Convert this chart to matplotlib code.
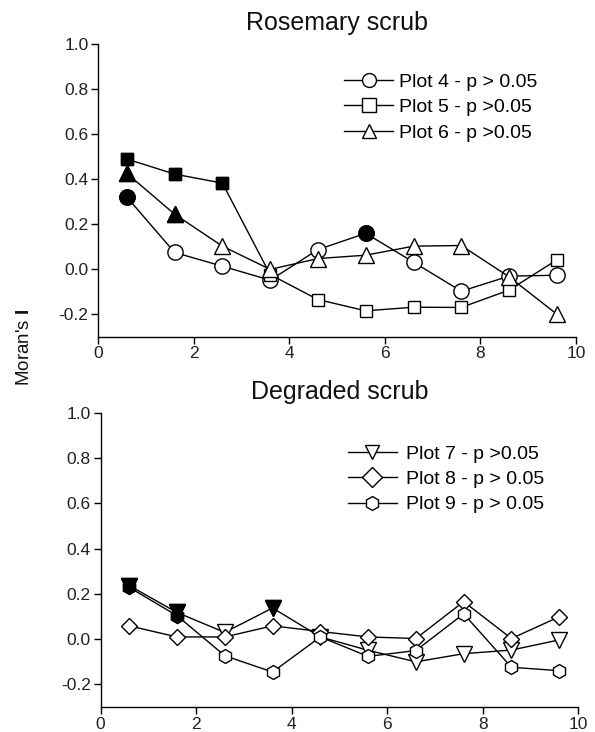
import matplotlib
matplotlib.use("Agg")
import matplotlib.pyplot as plt

plt.rcParams['font.family'] = ['Liberation Sans', 'DejaVu Sans']
plt.rcParams['axes.unicode_minus'] = False
plt.rcParams['mathtext.fontset'] = 'custom'
plt.rcParams['mathtext.bf'] = 'Liberation Sans:bold'
plt.rcParams['mathtext.rm'] = 'Liberation Sans'

lags = [0.6, 1.6, 2.6, 3.6, 4.6, 5.6, 6.6, 7.6, 8.6, 9.6]

# Rosemary scrub
plot4 = [0.32, 0.074, 0.013, -0.049, 0.087, 0.159, 0.031, -0.098, -0.031, -0.027]
plot4_sig = [True, False, False, False, False, True, False, False, False, False]
plot5 = [0.489, 0.422, 0.382, -0.024, -0.135, -0.185, -0.169, -0.170, -0.093, 0.041]
plot5_sig = [True, True, True, False, False, False, False, False, False, False]
plot6 = [0.425, 0.244, 0.102, -0.001, 0.047, 0.062, 0.102, 0.105, -0.034, -0.200]
plot6_sig = [True, True, False, False, False, False, False, False, False, False]

# Degraded scrub
plot7 = [0.237, 0.118, 0.030, 0.138, 0.010, -0.049, -0.100, -0.064, -0.048, -0.003]
plot7_sig = [True, True, False, True, False, False, False, False, False, False]
plot8 = [0.059, 0.010, 0.010, 0.059, 0.034, 0.010, 0.003, 0.166, 0.003, 0.099]
plot8_sig = [False] * 10
plot9 = [0.229, 0.104, -0.073, -0.145, 0.010, -0.076, -0.050, 0.112, -0.124, -0.139]
plot9_sig = [True, True, False, False, False, False, False, False, False, False]

top_labels = ["Plot 4 - p > 0.05", "Plot 5 - p >0.05", "Plot 6 - p >0.05"]
bot_labels = ["Plot 7 - p >0.05", "Plot 8 - p > 0.05", "Plot 9 - p > 0.05"]
yticks = [-0.2, 0.0, 0.2, 0.4, 0.6, 0.8, 1.0]
xticks = [0, 2, 4, 6, 8, 10]

fig = plt.figure(figsize=(5.95, 7.32), dpi=100)
ax1 = fig.add_axes([0.165, 0.540, 0.803, 0.400])
ax2 = fig.add_axes([0.169, 0.034, 0.803, 0.402])


def draw(ax, series, sigs, markers, sizes, labels):
    for y, sig, m, s, lab in zip(series, sigs, markers, sizes, labels):
        ax.plot(lags, y, color='black', lw=1.0, marker=m, ms=s,
                mfc='white', mec='black', mew=1.0, label=lab)
        xs = [x for x, f in zip(lags, sig) if f]
        ys = [v for v, f in zip(y, sig) if f]
        if xs:
            ax.plot(xs, ys, ls='none', marker=m, ms=s, mfc='black',
                    mec='black', mew=1.0)


def style(ax, title, anchor, textpad):
    ax.set_xlim(0, 10)
    ax.set_ylim(-0.3, 1.0)
    ax.set_xticks(xticks)
    ax.set_yticks(yticks)
    ax.set_yticklabels([f"{t:.1f}" for t in yticks])
    ax.set_xticklabels([str(t) for t in xticks])
    for sp in ['top', 'right']:
        ax.spines[sp].set_visible(False)
    for sp in ['left', 'bottom']:
        ax.spines[sp].set_linewidth(1.0)
    ax.tick_params(direction='out', length=5, width=1.0, labelsize=12.5,
                   pad=2, colors='black', labelcolor='#222222')
    ax.set_title(title, fontsize=18, pad=10, color='#111111')
    leg = ax.legend(loc='upper left', bbox_to_anchor=anchor,
                    frameon=False, fontsize=14, handlelength=2.5,
                    handletextpad=textpad, labelspacing=0.40,
                    borderaxespad=0, borderpad=0)
    for h in leg.legend_handles:
        h.set_markersize(10)


draw(ax1, [plot4, plot5, plot6], [plot4_sig, plot5_sig, plot6_sig],
     ['o', 's', '^'], [11, 8.5, 11], top_labels)
style(ax1, "Rosemary scrub", (0.515, 0.900), 0.3)

draw(ax2, [plot7, plot8, plot9], [plot7_sig, plot8_sig, plot9_sig],
     ['v', 'D', 'h'], [11, 8.5, 10], bot_labels)
style(ax2, "Degraded scrub", (0.518, 0.891), 0.5)

fig.text(0.042, 0.526, r"Moran's $\mathbf{I}$", rotation=90, fontsize=13.5,
         ha='center', va='center', color='#111111')

fig.savefig("out.png", dpi=100)
